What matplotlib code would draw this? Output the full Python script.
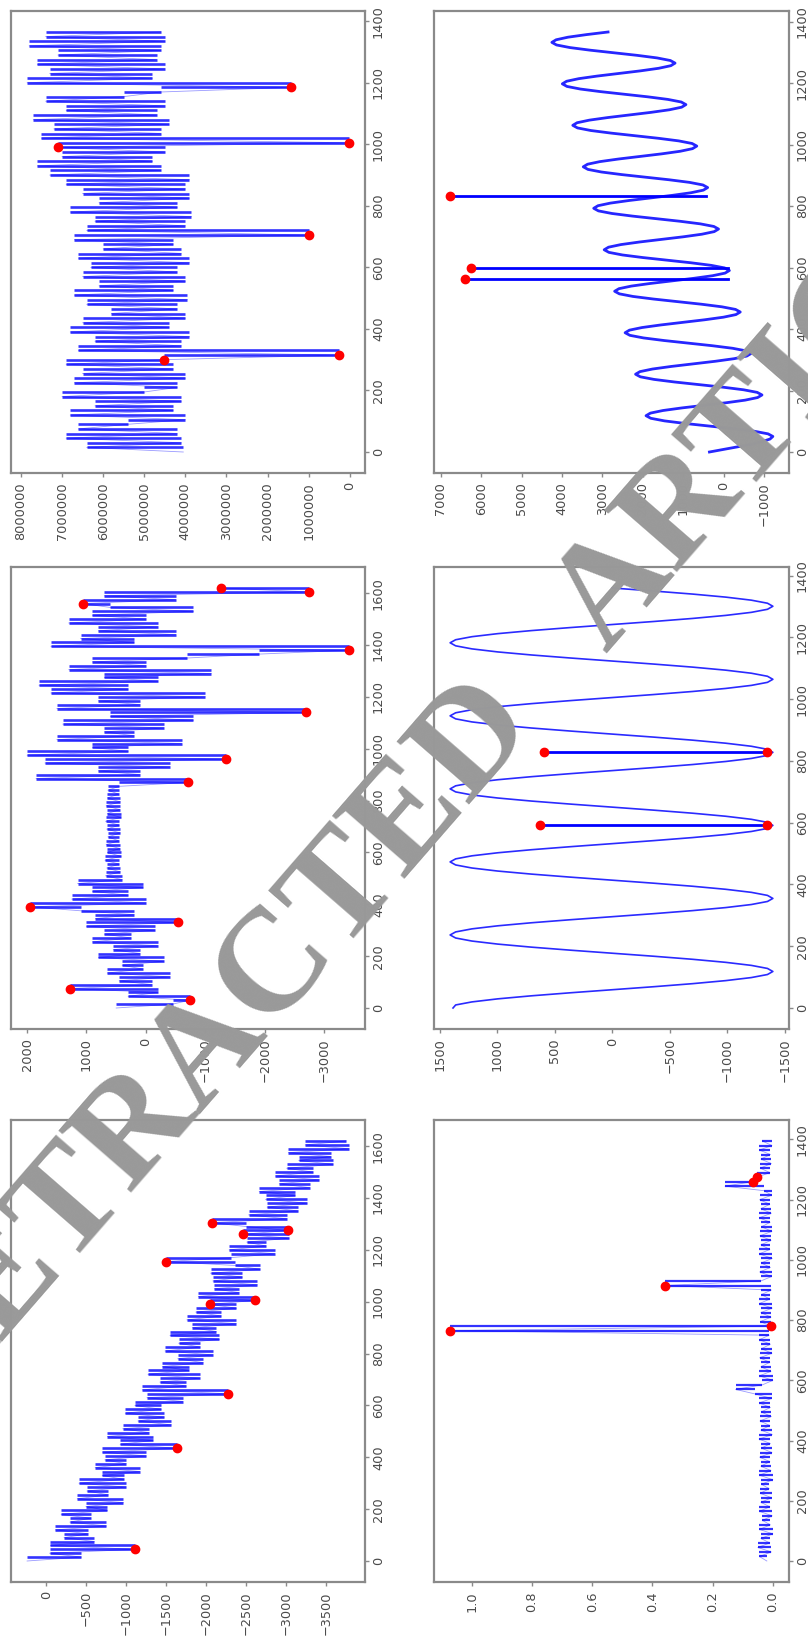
import matplotlib
matplotlib.use("Agg")
import matplotlib.pyplot as plt
import numpy as np

# ---- data (original orientation: x = sample, y = value) ----

# top row, left: drifting signal
a_vals = [240, -440, -41, -1110, -52, -602, -223, -523, -114, -754,
          -295, -555, -186, -766, -497, -967, -388, -778, -509, -999,
          -410, -970, -701, -1171, -612, -1002, -733, -1253, -704, -1635,
          -925, -1335, -766, -1286, -957, -1567, -1148, -1478, -989, -1439,
          -1110, -1710, -1261, -2280, -1202, -1752, -1423, -1923, -1274, -1784,
          -1455, -1965, -1646, -2086, -1487, -1927, -1658, -2168, -1549, -2129,
          -1830, -2380, -1761, -2191, -1872, -2382, -2050, -2610, -1904, -2414,
          -2105, -2645, -2086, -2456, -2057, -2677, -2358, -1500, -2309, -2859,
          -2290, -2750, -2511, -3041, -2465, -3025, -2503, -2070, -3014, -2534,
          -3155, -2765, -3266, -2746, -3117, -2667, -3298, -2918, -3419, -2869,
          -3340, -3010, -3591, -3161, -3562, -3032, -3790, -3243, -3754]
a_red = [3, 29, 43, 66, 67, 77, 84, 85, 87]

# top row, middle: noisy / quiet / noisy
b_vals = [500, -450, -735, 300, -200, 1280, -100, 450, -400, 650,
          50, 400, -300, 800, 100, 550, -200, 900, 250, 700,
          -150, 1000, -536, 850, 200, 1100, 1946, 0, 1250, 300,
          900, 50, 1150, 400,
          680, 430, 660, 450, 690, 420, 650, 440, 670, 460,
          640, 430, 660, 450, 680, 420, 650, 440, 670, 430,
          650, 460, 640, 450,
          -709, 1850, 100, 800, -400, 1700, -1341, 2000, 300, 900,
          -600, 1500, 200, 700, -300, 1400, -800, 600, -2700, 1500,
          100, 800, -1000, 1600, 300, 1800, -200, 700, -1100, 1300,
          0, 900, -700, -1900, -3417, 1600, 200, 1100, -500, 800,
          -200, 1300, 0, 900, -800, 600, 1064, -500, 700, -2742,
          -1272]
b_red = [2, 5, 22, 26, 58, 64, 76, 92, 104, 107, 108]

# top row, right: large values
c_vals = [4.05e6, 6.4e6, 4.1e6, 6.9e6, 4.2e6, 6.6e6, 5.4e6, 4.0e6, 6.8e6, 4.3e6,
          6.2e6, 4.1e6, 7.0e6, 5.0e6, 4.2e6, 6.7e6, 4.0e6, 6.5e6, 4.3e6, 6.9e6,
          4.51e6, 0.27e6,
          6.6e6, 4.1e6, 6.2e6, 3.9e6, 6.8e6, 4.4e6, 6.5e6, 4.0e6, 5.8e6, 4.2e6,
          6.4e6, 3.95e6, 6.7e6, 4.3e6, 6.1e6, 4.0e6, 6.5e6, 4.2e6, 6.3e6, 3.9e6,
          6.6e6, 4.1e6, 6.0e6, 4.3e6, 6.7e6, 1.0e6, 6.4e6, 4.0e6, 6.2e6, 3.85e6,
          6.8e6, 4.2e6, 6.1e6, 3.9e6, 6.5e6, 4.0e6, 6.9e6, 3.9e6,
          7.3e6, 4.6e6, 7.6e6, 4.8e6, 7.0e6, 4.5e6, 7.1e6, 0.02e6, 7.5e6, 4.6e6,
          7.2e6, 4.4e6, 7.7e6, 4.7e6, 6.9e6, 4.5e6, 7.4e6, 5.5e6, 4.6e6, 1.43e6,
          7.85e6, 4.8e6, 7.3e6, 4.5e6, 7.6e6, 4.7e6, 7.1e6, 4.6e6, 7.8e6, 4.5e6,
          7.4e6, 4.6e6]
c_red = [20, 21, 47, 66, 67, 79]

# bottom row, left: flat with spikes
d_vals = [0.02, 0.045, 0.005, 0.05, 0.01, 0.04, 0.0, 0.045, 0.008, 0.035,
          0.002, 0.045, 0.01, 0.04, 0.004, 0.042, 0.012, 0.038, 0.0, 0.045,
          0.006, 0.04, 0.01, 0.044, 0.003, 0.038, 0.008, 0.046, 0.002, 0.04,
          0.01, 0.043, 0.005, 0.039, 0.008, 0.045, 0.004, 0.06, 0.124, 0.035,
          0.0, 0.045, 0.006, 0.04, 0.01, 0.044, 0.003, 0.038, 0.008, 0.045,
          0.012, 1.072, 0.005, 0.042, 0.006, 0.04, 0.002, 0.045, 0.01, 0.038,
          0.005, 0.359, 0.04, 0.004, 0.044, 0.008, 0.039, 0.002, 0.045, 0.01,
          0.04, 0.006, 0.043, 0.003, 0.038, 0.009, 0.045, 0.005, 0.04, 0.01,
          0.044, 0.004, 0.03, 0.159, 0.066, 0.052, 0.01, 0.042, 0.005, 0.04,
          0.008, 0.045, 0.003, 0.035]
d_red = [51, 52, 61, 84, 85]

# bottom row, middle: sine (about 24 readings per wave)
e_vals = [1385, 1362, 1221, 997, 705, 365, 0, -361, -698, -986, -1208, -1348,
          -1395, -1348, -1208, -986, -698, -361, 0, 365, 705, 997, 1221, 1362,
          1410, 1362, 1221, 997, 705, 365, 0, -361, -698, -986, -1208, -1348,
          -1395, -1348, -1208, -986, -698, -361, 0, 365, 705, 997, 1221, 1362,
          1410, 1362, 1221, 997, 705, 365, 0, -361, -698, -986, -1208, -1348,
          -1395, -1348, -1208, -986, -698, -361, 0, 365, 705, 997, 1221, 1362,
          1410, 1362, 1221, 997, 705, 365, 0, -361, -698, -986, -1208, -1348,
          -1395, -1348, -1208, -986, -698, -361, 0, 365, 705, 997, 1221, 1362,
          1410, 1362, 1221, 997, 705, 365, 0, -361, -698, -986, -1208, -1348,
          -1395, -1348, -1208, -986, -698, -361, 0, 365, 705, 997, 1221, 1362,
          1410, 1362, 1221, 997, 705, 365, 0, -361, -698, -986, -1208, -1348,
          -1395, -1348, -1208, -986, -698, -361, 0]
e_spike_x = [591, 828]
e_spike_lo = [-1346, -1346]
e_spike_hi = [625, 590]

# bottom row, right: rising oscillation (about 16 readings per wave)
f_vals = [350, 0, -350, -700, -950, -1150,
          -1220, -1101, -762, -250, 350, 950, 1462, 1801,
          1920, 1811, 1501, 1033, 484, -64, -532, -842,
          -951, -832, -494, 16, 614, 1212, 1722, 2060,
          2179, 2070, 1761, 1295, 748, 202, -264, -573,
          -682, -563, -226, 282, 878, 1474, 1982, 2319,
          2438, 2330, 2022, 1557, 1012, 468, 3, -305,
          -413, -295, 41, 548, 1142, 1736, 2243, 2579,
          2697, 2589, 2282, 1819, 1276, 734, 271, -36,
          -144, -26, 309, 814, 1406, 1998, 2503, 2838,
          2956, 2848, 2543, 2081, 1540, 1000, 538, 233,
          125, 242, 576, 1080, 1670, 2260, 2764, 3098,
          3215, 3108, 2803, 2343, 1804, 1266, 806, 501,
          394, 511, 844, 1346, 1934, 2522, 3024, 3357,
          3474, 3367, 3064, 2605, 2068, 1532, 1073, 770,
          663, 780, 1111, 1612, 2198, 2784, 3285, 3616,
          3733, 3627, 3324, 2867, 2332, 1798, 1341, 1038,
          932, 1048, 1379, 1878, 2462, 3046, 3545, 3876,
          3992, 3886, 3585, 3130, 2596, 2063, 1608, 1307,
          1201, 1317, 1646, 2143, 2726, 3309, 3806, 4135,
          4251, 4145, 3851, 3391, 2860]
f_spike_x = [563, 600, 834]
f_spike_base = [-110, -120, 440]
f_spike_top = [6410, 6244, 6769]

# tick values
a_vticks = [0, -500, -1000, -1500, -2000, -2500, -3000, -3500]
b_vticks = [2000, 1000, 0, -1000, -2000, -3000]
c_vticks = [8000000, 7000000, 6000000, 5000000, 4000000, 3000000, 2000000, 1000000, 0]
d_vticks = [1.0, 0.8, 0.6, 0.4, 0.2, 0.0]
e_vticks = [1500, 1000, 500, 0, -500, -1000, -1500]
f_vticks = [7000, 6000, 5000, 4000, 3000, 2000, 1000, 0, -1000]
idx_ticks_1600 = [0, 200, 400, 600, 800, 1000, 1200, 1400, 1600]
idx_ticks_1400 = [0, 200, 400, 600, 800, 1000, 1200, 1400]


def fmt(v):
    if isinstance(v, float):
        s = "%.1f" % v
    else:
        s = "%d" % v
    return s.replace("-", "\u2212")


# the page is turned a quarter turn: samples run upward, values grow leftward
fig = plt.figure(figsize=(8.08, 16.41), dpi=100)

col_x = [11 / 808, 434 / 808]
col_w = [354 / 808, 355 / 808]
row_y = [1 - 473 / 1641, 1 - 1029 / 1641, 1 - 1582 / 1641]
row_h = 462 / 1641


def make_axes(col, row):
    ax = fig.add_axes([col_x[col], row_y[row], col_w[col], row_h])
    for sp in ax.spines.values():
        sp.set_color("#8a8a8a")
        sp.set_linewidth(1.6)
    ax.yaxis.tick_right()
    ax.tick_params(colors="#8a8a8a", labelcolor="#4a4a4a", labelsize=9.3,
                   length=3, width=1.0)
    ax.tick_params(axis="y", pad=2)
    return ax


def finish(ax, vticks, iticks):
    ax.invert_xaxis()
    ax.set_xticks(vticks)
    ax.set_xticklabels([fmt(v) for v in vticks], rotation=90)
    ax.set_yticks(iticks)
    ax.set_yticklabels([fmt(v) for v in iticks], rotation=90, va="center")


def noisy_panel(col, row, vals, red, step, vticks, iticks, lw=1.9):
    ax = make_axes(col, row)
    v = np.array(vals, dtype=float)
    x = np.arange(len(v)) * step
    # every jump shows as a flat stroke, as the dense original does at this size
    ax.hlines(x[1:], v[:-1], v[1:], colors="#0000ff", lw=lw, alpha=0.8)
    ax.plot(v, x, color="#0000ff", lw=0.6, alpha=0.4)
    ax.plot(v[red], x[red], "o", color="red", ms=6)
    finish(ax, vticks, iticks)
    return ax


noisy_panel(0, 2, a_vals, a_red, 15, a_vticks, idx_ticks_1600)
noisy_panel(0, 1, b_vals, b_red, 15, b_vticks, idx_ticks_1600)
noisy_panel(0, 0, c_vals, c_red, 15, c_vticks, idx_ticks_1400)
noisy_panel(1, 2, d_vals, d_red, 15, d_vticks, idx_ticks_1400, lw=1.6)

# sine panel
ax = make_axes(1, 1)
ex = np.linspace(0, 1360, len(e_vals))
ax.plot(e_vals, ex, color="#2a2aff", lw=1.2)
for sx, lo, hi in zip(e_spike_x, e_spike_lo, e_spike_hi):
    ax.plot([lo, hi], [sx, sx], color="#0000ff", lw=2.0)
ax.plot(e_spike_lo, e_spike_x, "o", color="red", ms=6)
ax.plot(e_spike_hi, e_spike_x, "o", color="red", ms=6)
finish(ax, e_vticks, idx_ticks_1400)

# rising oscillation panel
ax = make_axes(1, 0)
fx = np.arange(len(f_vals)) * 8.4375
ax.plot(f_vals, fx, color="#0000ff", lw=2.0, alpha=0.85)
for sx, lo, hi in zip(f_spike_x, f_spike_base, f_spike_top):
    ax.plot([lo, hi], [sx, sx], color="#0000ff", lw=2.0)
ax.plot(f_spike_top, f_spike_x, "o", color="red", ms=6)
finish(ax, f_vticks, idx_ticks_1400)

# watermark, two words laid along the same slanted line
mark = dict(rotation=49, rotation_mode="anchor", ha="center", va="center",
            fontsize=106, fontweight="bold", family="Liberation Serif",
            color="#999999", zorder=20)
fig.text(207 / 808, 1 - 1049 / 1641, "RETRACTED", **mark)
fig.text(798 / 808, 1 - 379 / 1641, "ARTICLE", **mark)

fig.savefig("out.png", dpi=100)
